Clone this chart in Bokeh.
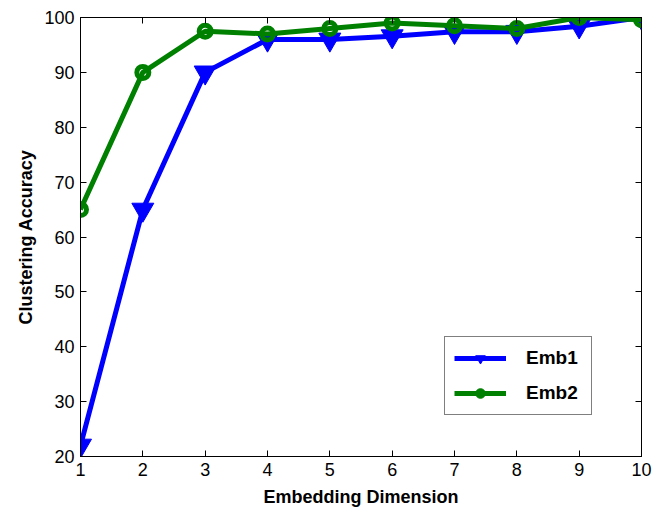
from bokeh.plotting import figure
from bokeh.models import LinearAxis, Range1d, Legend, LegendItem, FixedTicker
from bokeh.embed import file_html
from bokeh.resources import INLINE

dims = [1, 2, 3, 4, 5, 6, 7, 8, 9, 10]
emb1 = [22, 65, 90, 96, 96, 96.6, 97.4, 97.4, 98.4, 100]
emb2 = [65, 90, 97.5, 97, 98, 99, 98.5, 98, 100, 99.6]
x_ticks = [1, 2, 3, 4, 5, 6, 7, 8, 9, 10]
y_ticks = [20, 30, 40, 50, 60, 70, 80, 90, 100]

FONT = "Liberation Sans"

p = figure(width=654, height=509, output_backend="svg", toolbar_location=None,
           x_range=Range1d(1, 10), y_range=Range1d(20, 100),
           x_axis_location=None, y_axis_location=None,
           min_border_left=80, min_border_right=13, min_border_top=17, min_border_bottom=51)
p.grid.visible = False
p.outline_line_color = "black"
p.outline_line_width = 1
p.background_fill_color = "white"
p.border_fill_color = "white"

def style_axis(ax, labels=True):
    ax.major_tick_in = 6
    ax.major_tick_out = 0
    ax.minor_tick_in = 0
    ax.minor_tick_out = 0
    ax.axis_line_color = "black"
    ax.major_tick_line_color = "black"
    ax.major_label_text_font = FONT
    ax.major_label_text_font_size = "18px"
    ax.major_label_text_color = "black"
    ax.axis_label_text_font = FONT
    ax.axis_label_text_font_size = "18px"
    ax.axis_label_text_font_style = "bold"
    ax.axis_label_text_color = "black"
    if not labels:
        ax.major_label_text_font_size = "0px"
        ax.major_label_text_alpha = 0

xb = LinearAxis(ticker=FixedTicker(ticks=x_ticks), axis_label="Embedding Dimension")
style_axis(xb)
xb.major_label_standoff = 6
xb.axis_label_standoff = 8
yl = LinearAxis(ticker=FixedTicker(ticks=y_ticks), axis_label="Clustering Accuracy")
style_axis(yl)
yl.major_label_standoff = 6
yl.axis_label_standoff = 5
xt = LinearAxis(ticker=FixedTicker(ticks=x_ticks))
style_axis(xt, labels=False)
yr = LinearAxis(ticker=FixedTicker(ticks=y_ticks))
style_axis(yr, labels=False)
p.add_layout(xb, "below")
p.add_layout(yl, "left")
p.add_layout(xt, "above")
p.add_layout(yr, "right")

blue = "#0000ff"
green = "#008000"

l1 = p.line(dims, emb1, line_color=blue, line_width=5)
s1 = p.scatter(dims, emb1, marker="inverted_triangle", size=22, fill_color=blue, line_color=blue, line_width=1)
l2 = p.line(dims, emb2, line_color=green, line_width=5)
s2 = p.scatter(dims, emb2, marker="circle", size=12, fill_alpha=0, line_color=green, line_width=5)

nan = float("nan")
k1 = p.scatter([nan], [nan], marker="inverted_triangle", size=15, fill_color=blue, line_color=blue)
k2 = p.scatter([nan], [nan], marker="circle", size=12, fill_color=green, line_color=green)

legend = Legend(items=[LegendItem(label="Emb1", renderers=[l1, k1]),
                       LegendItem(label="Emb2", renderers=[l2, k2])],
                location=(364, 41))
legend.label_text_font = FONT
legend.label_text_font_size = "19px"
legend.label_text_font_style = "bold"
legend.label_text_color = "black"
legend.border_line_color = "black"
legend.border_line_width = 1.5
legend.background_fill_alpha = 1
legend.glyph_width = 52
legend.glyph_height = 24
legend.label_standoff = 20
legend.padding = 9
legend.spacing = 11
legend.margin = 0
legend.label_width = 56
p.add_layout(legend, "center")

open("out.html", "w").write(file_html(p, INLINE))
